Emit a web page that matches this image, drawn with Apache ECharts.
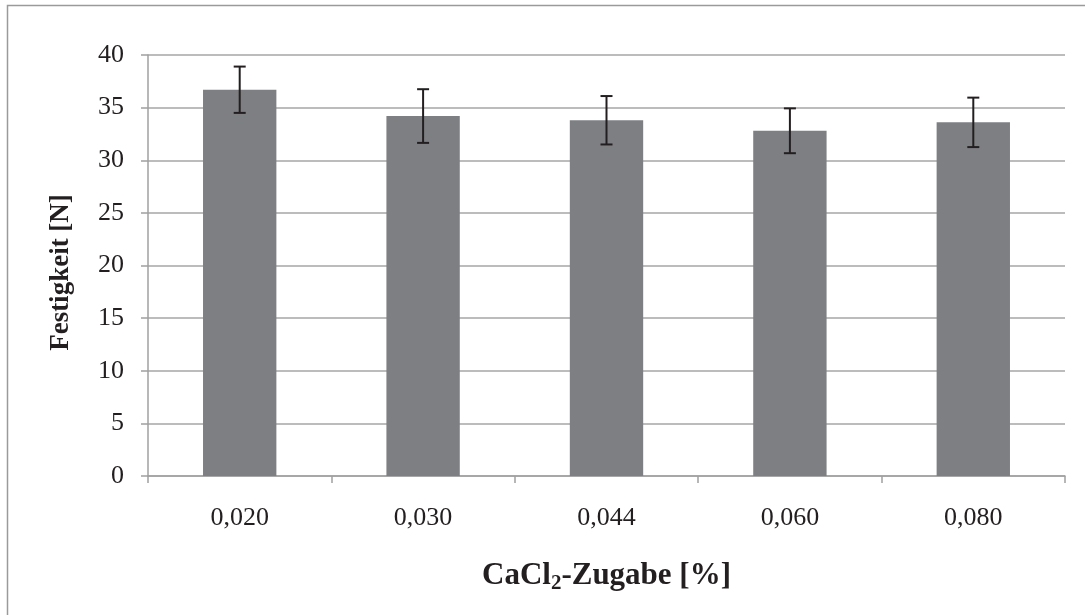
<!DOCTYPE html>
<html>
<head>
<meta charset="utf-8">
<style>html,body{margin:0;padding:0;background:#fff;}#c{width:1085px;height:615px;}</style>
<script src="https://cdn.jsdelivr.net/npm/echarts@6/dist/echarts.min.js"></script>
</head>
<body>
<div id="c"></div>
<script>
const categories = ['0,020', '0,030', '0,044', '0,060', '0,080'];
const values = [36.7, 34.2, 33.8, 32.8, 33.6];
const errors = [2.2, 2.55, 2.3, 2.13, 2.35];
const yTicks = { min: 0, max: 40, interval: 5 };

const chart = echarts.init(document.getElementById('c'));
const serif = '"Liberation Serif", "DejaVu Serif", serif';
chart.setOption({
  animation: false,
  backgroundColor: '#fff',
  grid: { left: 148, right: 20, top: 55, bottom: 139, containLabel: false },
  graphic: [{
    type: 'rect', silent: true,
    shape: { x: 7.5, y: 5.5, width: 1100, height: 700 },
    style: { fill: 'none', stroke: '#9a9a9a', lineWidth: 1.5 }
  }],
  xAxis: {
    type: 'category', data: categories,
    axisLine: { lineStyle: { color: '#a0a0a0', width: 1.5 } },
    axisTick: { show: true, length: 7, inside: false, alignWithLabel: false, lineStyle: { color: '#a0a0a0', width: 1.5 } },
    axisLabel: { fontFamily: serif, fontSize: 26, color: '#231f20', margin: 29 },
    name: '{b|CaCl}{s|2}{b|-Zugabe [%]}',
    nameLocation: 'middle', nameGap: 81,
    nameTextStyle: {
      rich: {
        b: { fontFamily: serif, fontSize: 31, fontWeight: 'bold', color: '#231f20' },
        s: { fontFamily: serif, fontSize: 21, fontWeight: 'bold', color: '#231f20', padding: [16, 0, 0, 0] }
      }
    }
  },
  yAxis: {
    type: 'value', min: yTicks.min, max: yTicks.max, interval: yTicks.interval,
    axisLine: { show: true, lineStyle: { color: '#a0a0a0', width: 1.5 } },
    axisTick: { show: true, length: 7, lineStyle: { color: '#a0a0a0', width: 1.5 } },
    splitLine: { lineStyle: { color: '#a6a6a6', width: 1.5 } },
    axisLabel: { fontFamily: serif, fontSize: 26, color: '#231f20', margin: 24 },
    name: 'Festigkeit [N]', nameLocation: 'middle', nameGap: 73,
    nameTextStyle: { fontFamily: serif, fontSize: 27, fontWeight: 'bold', color: '#231f20', padding: [0, 14, 0, 0] }
  },
  series: [{
    type: 'bar', data: values, barWidth: '40%',
    itemStyle: { color: '#7e7f83' }
  }, {
    type: 'custom',
    data: values.map((v, i) => [i, v - errors[i], v + errors[i]]),
    renderItem: function (params, api) {
      const lo = api.coord([api.value(0), api.value(1)]);
      const hi = api.coord([api.value(0), api.value(2)]);
      const w = 6;
      const st = { stroke: '#231f20', lineWidth: 2 };
      return {
        type: 'group',
        children: [
          { type: 'line', shape: { x1: hi[0], y1: hi[1], x2: lo[0], y2: lo[1] }, style: st },
          { type: 'line', shape: { x1: hi[0] - w, y1: hi[1], x2: hi[0] + w, y2: hi[1] }, style: st },
          { type: 'line', shape: { x1: lo[0] - w, y1: lo[1], x2: lo[0] + w, y2: lo[1] }, style: st }
        ]
      };
    },
    z: 5
  }]
});
</script>
</body>
</html>
